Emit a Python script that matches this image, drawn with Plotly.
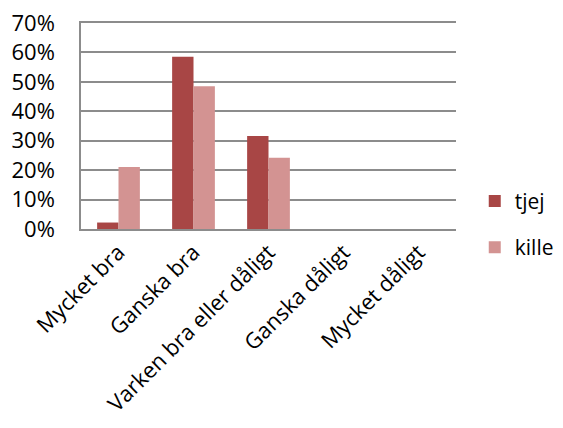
import plotly.graph_objects as go

categories = ["Mycket bra", "Ganska bra", "Varken bra eller dåligt", "Ganska dåligt", "Mycket dåligt"]
tjej = [0.022, 0.585, 0.316, 0, 0]
kille = [0.211, 0.485, 0.242, 0, 0]
y_ticks = [0, 0.1, 0.2, 0.3, 0.4, 0.5, 0.6, 0.7]

FONT = "Open Sans"

fig = go.Figure()
fig.add_trace(go.Bar(name="tjej", x=categories, y=tjej, marker_color="#A84645",
                     marker_line_width=0, legendgroup="a"))
fig.add_trace(go.Bar(name="kille", x=categories, y=kille, marker_color="#D39392",
                     marker_line_width=0, legendgroup="b"))

fig.update_layout(
    width=555, height=420,
    margin=dict(l=73, r=107, t=15, b=199, pad=0, autoexpand=False),
    paper_bgcolor="white", plot_bgcolor="white",
    barmode="group", bargap=0.43, bargroupgap=0,
    font=dict(family=FONT, size=22, color="black"),
    showlegend=True,
    legend=dict(x=1.05, y=0.234, xanchor="left", yanchor="top",
                tracegroupgap=16, traceorder="grouped",
                font=dict(family=FONT, size=21, color="black"),
                bgcolor="rgba(0,0,0,0)"),
)
fig.update_xaxes(showgrid=False, showline=True, mirror=True, linecolor="#8c8c8c", linewidth=1.5,
                 tickangle=-45, ticks="", tickfont=dict(size=22), automargin=False,
                 ticklabeloverflow="allow")
fig.update_yaxes(range=[0, 0.7], tickvals=y_ticks, tickformat=".0%",
                 showgrid=True, gridcolor="#8c8c8c", gridwidth=1.5,
                 showline=True, linecolor="#8c8c8c", linewidth=1.5,
                 ticks="", ticklabelstandoff=20, zeroline=False,
                 tickfont=dict(size=22), automargin=False,
                 ticklabeloverflow="allow")

fig.write_html("out.html")
